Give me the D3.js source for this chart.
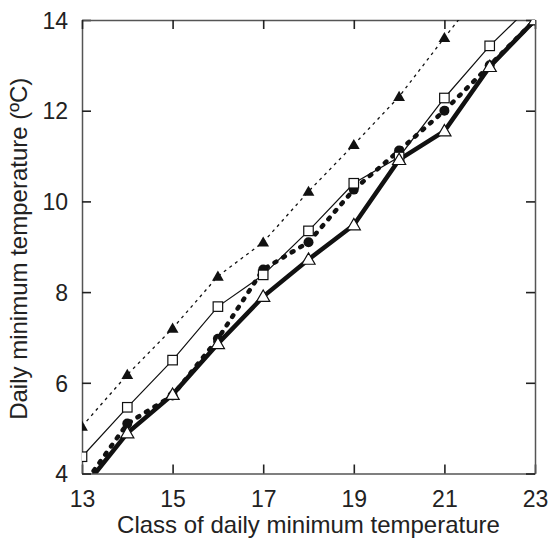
<!DOCTYPE html>
<html>
<head>
<meta charset="utf-8">
<script src="https://cdn.jsdelivr.net/npm/d3@7"></script>
<style>
  html, body { margin: 0; padding: 0; background: #fff; }
  svg text { font-family: "Liberation Sans", Arial, sans-serif; fill: #222; }
</style>
</head>
<body>
<div id="chart"></div>
<script>
// chart data
const classes = [13, 14, 15, 16, 17, 18, 19, 20, 21, 22, 23];
const filledTri = [5.04, 6.18, 7.2, 8.35, 9.1, 10.22, 11.25, 12.31, 13.61, 14.87, null];
const openSquare = [4.37, 5.46, 6.5, 7.68, 8.38, 9.35, 10.4, 10.98, 12.28, 13.43, 14.4];
const filledCircle = [3.7, 5.1, 5.72, 6.97, 8.5, 9.1, 10.26, 11.12, 12.0, 13.0, 14.0];
const openTri = [3.64, 4.89, 5.74, 6.86, 7.9, 8.72, 9.48, 10.92, 11.55, 12.97, 14.0];

const xTicks = [13, 15, 17, 19, 21, 23];
const yTicks = [4, 6, 8, 10, 12, 14];

const W = 552, H = 545;
const margin = { top: 20, right: 17, bottom: 71.5, left: 82 };
const iw = W - margin.left - margin.right;
const ih = H - margin.top - margin.bottom;

const svg = d3.select('#chart').append('svg')
  .attr('width', W)
  .attr('height', H);

const x = d3.scaleLinear().domain([13, 23]).range([0, iw]);
const y = d3.scaleLinear().domain([4, 14]).range([ih, 0]);

const g = svg.append('g').attr('transform', `translate(${margin.left},${margin.top})`);

g.append('clipPath').attr('id', 'plot-clip')
  .append('rect').attr('width', iw).attr('height', ih);

// axes on all four sides, ticks pointing inward
const tick = 9;
const axisBottom = g.append('g').attr('transform', `translate(0,${ih})`)
  .call(d3.axisBottom(x).tickValues(xTicks).tickSizeInner(-tick).tickSizeOuter(0).tickPadding(17));
const axisLeft = g.append('g')
  .call(d3.axisLeft(y).tickValues(yTicks).tickSizeInner(-tick).tickSizeOuter(0).tickPadding(14));
const axisTop = g.append('g')
  .call(d3.axisTop(x).tickValues(xTicks).tickSizeInner(-tick).tickSizeOuter(0).tickFormat(''));
const axisRight = g.append('g').attr('transform', `translate(${iw},0)`)
  .call(d3.axisRight(y).tickValues(yTicks).tickSizeInner(-tick).tickSizeOuter(0).tickFormat(''));

[axisBottom, axisLeft, axisTop, axisRight].forEach(a => {
  a.select('.domain').attr('stroke', '#555').attr('stroke-width', 1.5);
  a.selectAll('.tick line').attr('stroke', '#222').attr('stroke-width', 1.6);
  a.selectAll('.tick text').style('font-size', '23px').attr('fill', '#222');
});
axisLeft.selectAll('.tick text').attr('dy', '0.36em');

// axis titles
svg.append('text')
  .attr('x', margin.left + iw / 2)
  .attr('y', 533)
  .attr('text-anchor', 'middle')
  .style('font-size', '24px')
  .text('Class of daily minimum temperature');

svg.append('text')
  .attr('transform', `translate(27,${margin.top + ih / 2 + 2}) rotate(-90)`)
  .attr('text-anchor', 'middle')
  .style('font-size', '24px')
  .text('Daily minimum temperature (ºC)');

const plot = g.append('g').attr('clip-path', 'url(#plot-clip)');

function pts(vals) {
  return classes.map((c, i) => ({ c, v: vals[i] })).filter(d => d.v != null);
}

const line = d3.line().x(d => x(d.c)).y(d => y(d.v));

// lines
plot.append('path').datum(pts(filledCircle))
  .attr('d', line).attr('fill', 'none').attr('stroke', '#111')
  .attr('stroke-width', 4.5).attr('stroke-dasharray', '2,8').attr('stroke-linecap', 'round');

plot.append('path').datum(pts(openSquare))
  .attr('d', line).attr('fill', 'none').attr('stroke', '#111').attr('stroke-width', 1.2);

plot.append('path').datum(pts(openTri))
  .attr('d', line).attr('fill', 'none').attr('stroke', '#111').attr('stroke-width', 4.5);

plot.append('path').datum(pts(filledTri))
  .attr('d', line).attr('fill', 'none').attr('stroke', '#111')
  .attr('stroke-width', 1.3).attr('stroke-dasharray', '3,4');

// markers
plot.selectAll('circle.fc').data(pts(filledCircle)).join('circle')
  .attr('class', 'fc')
  .attr('cx', d => x(d.c)).attr('cy', d => y(d.v)).attr('r', 5)
  .attr('fill', '#111');

const sq = 9.5;
plot.selectAll('rect.sq').data(pts(openSquare)).join('rect')
  .attr('class', 'sq')
  .attr('x', d => x(d.c) - sq / 2).attr('y', d => y(d.v) - sq / 2)
  .attr('width', sq).attr('height', sq)
  .attr('fill', '#fff').attr('stroke', '#111').attr('stroke-width', 1.2);

const triOpen = d3.symbol().type(d3.symbolTriangle).size(75);
plot.selectAll('path.ot').data(pts(openTri)).join('path')
  .attr('class', 'ot')
  .attr('transform', d => `translate(${x(d.c)},${y(d.v) + 1})`)
  .attr('d', triOpen)
  .attr('fill', '#fff').attr('stroke', '#111').attr('stroke-width', 1.2);

const triFilled = d3.symbol().type(d3.symbolTriangle).size(60);
plot.selectAll('path.ft').data(pts(filledTri)).join('path')
  .attr('class', 'ft')
  .attr('transform', d => `translate(${x(d.c)},${y(d.v) + 1})`)
  .attr('d', triFilled)
  .attr('fill', '#111');
</script>
</body>
</html>
